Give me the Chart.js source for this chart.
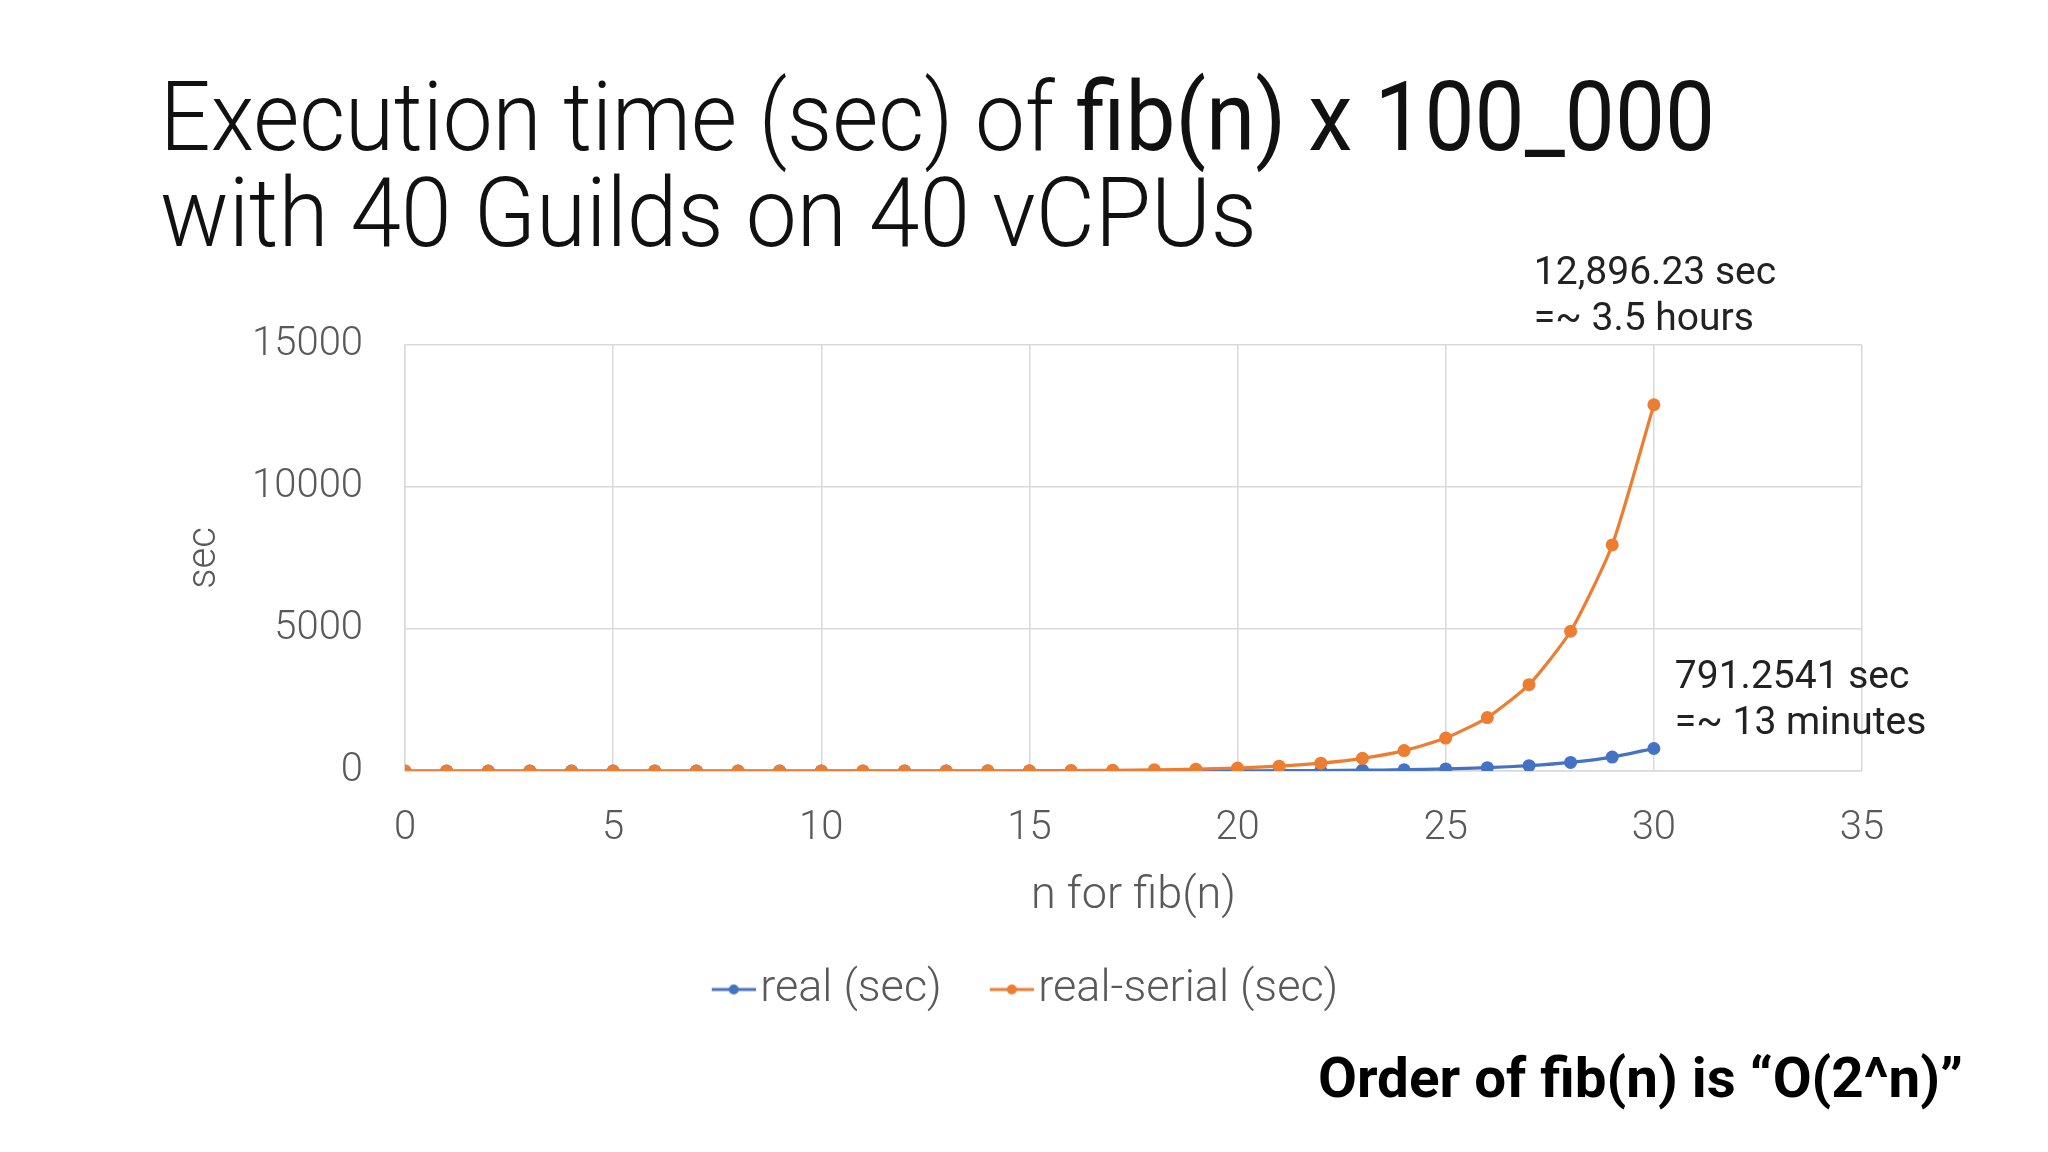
<!DOCTYPE html>
<html lang="en">
<head>
<meta charset="UTF-8">
<title>Execution time of fib(n) x 100_000</title>
<script src="https://cdn.jsdelivr.net/npm/chart.js"></script>
<style>
  html, body { margin: 0; padding: 0; background: #fff; }
  #wrap { width: 2048px; height: 1152px; }
</style>
</head>
<body>
<div id="wrap"><canvas id="fibChart" width="2048" height="1152"></canvas></div>
<script>
// values
const nValues = [0, 1, 2, 3, 4, 5, 6, 7, 8, 9, 10, 11, 12, 13, 14, 15,
                 16, 17, 18, 19, 20, 21, 22, 23, 24, 25, 26, 27, 28, 29, 30];
const realSec = [0.1, 0.1, 0.1, 0.1, 0.1, 0.1, 0.12, 0.13, 0.15, 0.17, 0.2, 0.25, 0.3, 0.4, 0.55, 0.8,
                 1.2, 1.8, 2.8, 4.4, 7, 11, 17.5, 28, 45, 72, 116, 187, 302, 490, 791.2541];
const realSerialSec = [0.03, 0.03, 0.04, 0.05, 0.07, 0.1, 0.15, 0.23, 0.36, 0.56, 0.9, 1.4, 2.3, 3.7, 5.9, 9.5,
                       15.4, 25, 40, 65, 105, 170, 275, 445, 718, 1160, 1880, 3040, 4920, 7960, 12896.23];
const xTicks = [0, 5, 10, 15, 20, 25, 30, 35];
const yTicks = [0, 5000, 10000, 15000];

const BLUE = '#4472C4';
const ORANGE = '#ED7D31';
const GREY = '#595959';
const GRID = '#d9d9d9';

// "line with a dot" marker for the legend, like Excel.
// transparent room on the left gives the gap between legend items
function legendMark(color) {
    const c = document.createElement('canvas');
    c.width = 100; c.height = 14;
    const g = c.getContext('2d');
    g.strokeStyle = color; g.lineWidth = 3;
    g.beginPath(); g.moveTo(56, 7); g.lineTo(100, 7); g.stroke();
    g.fillStyle = color;
    g.beginPath(); g.arc(78, 7, 5, 0, Math.PI * 2); g.fill();
    return c;
}
const marks = [legendMark(BLUE), legendMark(ORANGE)];

// draws text squeezed to a given width (the slide font is condensed)
function drawFitted(ctx, parts, x, y, width) {
    let total = 0;
    parts.forEach(p => { ctx.font = p[1]; total += ctx.measureText(p[0]).width; });
    ctx.save();
    ctx.translate(x, y);
    ctx.scale(width / total, 1);
    let cx = 0;
    parts.forEach(p => {
        ctx.font = p[1];
        ctx.fillText(p[0], cx, 0);
        cx += ctx.measureText(p[0]).width;
    });
    ctx.restore();
}

const slideText = {
    id: 'slideText',
    afterDraw(chart) {
        const ctx = chart.ctx;
        ctx.save();
        ctx.textBaseline = 'alphabetic';
        ctx.textAlign = 'left';

        // title
        ctx.fillStyle = '#111';
        drawFitted(ctx, [['Execution time (sec) of ', '300 96px Roboto'], ['fib(n) x 100_000', '400 96px Roboto']], 160, 150, 1555);
        drawFitted(ctx, [['with 40 Guilds on 40 vCPUs', '300 96px Roboto']], 160, 246, 1097);

        // notes next to the last points
        ctx.fillStyle = '#222';
        ctx.font = '400 39px Roboto';
        const pSerial = chart.getDatasetMeta(1).data[30];
        ctx.fillText('12,896.23 sec', pSerial.x - 120, pSerial.y - 121);
        ctx.fillText('=~ 3.5 hours', pSerial.x - 120, pSerial.y - 75);
        const pReal = chart.getDatasetMeta(0).data[30];
        ctx.fillText('791.2541 sec', pReal.x + 21, pReal.y - 61);
        ctx.fillText('=~ 13 minutes', pReal.x + 21, pReal.y - 15);

        // footer
        ctx.fillStyle = '#000';
        drawFitted(ctx, [['Order of fib(n) is \u201cO(2^n)\u201d', 'bold 55px Roboto']], 1318, 1097, 645);
        ctx.restore();
    }
};

const tickFont = { family: 'Roboto', size: 40, weight: '300' };

new Chart(document.getElementById('fibChart'), {
    type: 'line',
    data: {
        datasets: [{
            label: 'real (sec)',
            data: nValues.map((n, i) => ({ x: n, y: realSec[i] })),
            borderColor: BLUE,
            backgroundColor: BLUE,
            borderWidth: 3.2,
            pointRadius: 6.5,
            pointBorderWidth: 0,
            tension: 0.2,
            order: 1
        }, {
            label: 'real-serial (sec)',
            data: nValues.map((n, i) => ({ x: n, y: realSerialSec[i] })),
            borderColor: ORANGE,
            backgroundColor: ORANGE,
            borderWidth: 3.2,
            pointRadius: 6.5,
            pointBorderWidth: 0,
            tension: 0.2,
            order: 0
        }]
    },
    options: {
        responsive: false,
        animation: false,
        devicePixelRatio: 1,
        layout: { padding: { left: 150, right: 186, top: 345, bottom: 130 } },
        plugins: {
            tooltip: { enabled: false },
            legend: {
                position: 'bottom',
                labels: {
                    usePointStyle: true,
                    pointStyleWidth: 64,
                    padding: 10,
                    color: GREY,
                    font: { family: 'Roboto', size: 45, weight: '300' },
                    sort: (a, b) => a.datasetIndex - b.datasetIndex,
                    generateLabels(chart) {
                        const items = Chart.defaults.plugins.legend.labels.generateLabels(chart);
                        items.forEach(it => { it.pointStyle = marks[it.datasetIndex]; });
                        return items;
                    }
                }
            }
        },
        scales: {
            x: {
                type: 'linear',
                min: 0,
                max: 35,
                afterBuildTicks: s => { s.ticks = xTicks.map(v => ({ value: v })); },
                afterFit: s => { s.height = 186; },
                ticks: { padding: 34, color: GREY, font: tickFont },
                grid: { color: GRID, lineWidth: 1.5, drawTicks: false },
                border: { color: GRID, width: 1.5 },
                title: { display: true, text: 'n for fib(n)', color: GREY, font: { family: 'Roboto', size: 45, weight: '300' }, padding: { top: 0, bottom: 33 } }
            },
            y: {
                min: 0,
                max: 15000,
                afterBuildTicks: s => { s.ticks = yTicks.map(v => ({ value: v })); },
                afterFit: s => { s.width = 255; },
                ticks: { padding: 42, color: GREY, font: tickFont, callback: v => String(v) },
                grid: { color: GRID, lineWidth: 1.5, drawTicks: false },
                border: { color: GRID, width: 1.5 },
                title: { display: true, text: 'sec', color: GREY, font: tickFont, padding: { top: 31, bottom: 0 } }
            }
        }
    },
    plugins: [slideText]
});
</script>
</body>
</html>
